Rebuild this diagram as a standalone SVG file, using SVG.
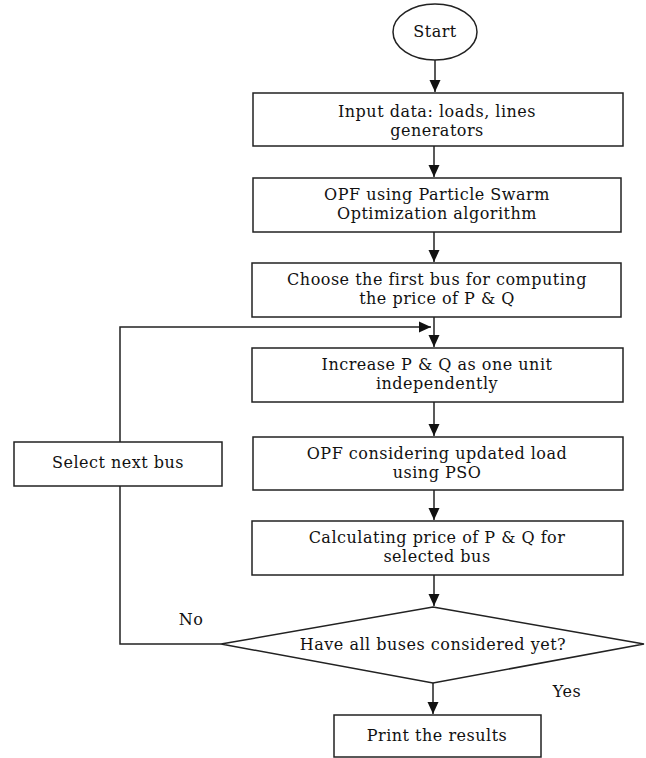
<svg xmlns="http://www.w3.org/2000/svg" width="646" height="758" viewBox="0 0 646 758">
<style>
.box{fill:#fff;stroke:#222;stroke-width:1.5}
.ln{fill:none;stroke:#222;stroke-width:1.5}
text{font-family:"DejaVu Serif","Liberation Serif",serif;font-size:16px;letter-spacing:0.5px;fill:#111;text-anchor:middle}
</style>
<defs>
<marker id="ah" markerUnits="userSpaceOnUse" markerWidth="12" markerHeight="12" viewBox="0 0 12 12" refX="12" refY="6" orient="auto">
<path d="M0,0.5 L12,6 L0,11.5 z" fill="#111"/>
</marker>
</defs>
<rect width="646" height="758" fill="#fff"/>
<g id="connectors">
<line class="ln" x1="435" y1="60" x2="435" y2="92" marker-end="url(#ah)"/>
<line class="ln" x1="434" y1="146" x2="434" y2="177" marker-end="url(#ah)"/>
<line class="ln" x1="434" y1="232" x2="434" y2="262" marker-end="url(#ah)"/>
<line class="ln" x1="434" y1="317" x2="434" y2="347" marker-end="url(#ah)"/>
<line class="ln" x1="434" y1="402" x2="434" y2="436" marker-end="url(#ah)"/>
<line class="ln" x1="434" y1="490" x2="434" y2="520" marker-end="url(#ah)"/>
<line class="ln" x1="434" y1="575" x2="434" y2="606" marker-end="url(#ah)"/>
<line class="ln" x1="433" y1="683" x2="433" y2="714" marker-end="url(#ah)"/>
<polyline class="ln" points="221,644 120,644 120,486"/>
<polyline class="ln" points="120,442 120,327 431,327" marker-end="url(#ah)"/>
<text x="191" y="625">No</text>
<text x="567" y="697">Yes</text>
</g>
<g id="start">
<ellipse class="box" cx="435" cy="32" rx="42" ry="28"/>
<text x="435" y="37">Start</text>
</g>
<g id="input">
<rect class="box" x="253" y="93" width="370" height="53"/>
<text x="437" y="117">Input data: loads, lines</text>
<text x="437" y="136">generators</text>
</g>
<g id="opf-pso">
<rect class="box" x="253" y="178" width="368" height="54"/>
<text x="437" y="200">OPF using Particle Swarm</text>
<text x="437" y="219">Optimization algorithm</text>
</g>
<g id="choose">
<rect class="box" x="252" y="263" width="369" height="54"/>
<text x="437" y="285">Choose the first bus for computing</text>
<text x="437" y="304">the price of P &amp; Q</text>
</g>
<g id="increase">
<rect class="box" x="252" y="348" width="371" height="54"/>
<text x="437" y="370">Increase P &amp; Q as one unit</text>
<text x="437" y="389">independently</text>
</g>
<g id="opf-updated">
<rect class="box" x="253" y="437" width="370" height="53"/>
<text x="437" y="459">OPF considering updated load</text>
<text x="437" y="478">using PSO</text>
</g>
<g id="calc">
<rect class="box" x="252" y="521" width="371" height="54"/>
<text x="437" y="543">Calculating price of P &amp; Q for</text>
<text x="437" y="562">selected bus</text>
</g>
<g id="decision">
<polygon class="box" points="433,607 644,644 433,683 221,644"/>
<text x="433" y="650">Have all buses considered yet?</text>
</g>
<g id="print">
<rect class="box" x="334" y="715" width="207" height="42"/>
<text x="437" y="741">Print the results</text>
</g>
<g id="select-next">
<rect class="box" x="14" y="442" width="208" height="44"/>
<text x="118" y="468">Select next bus</text>
</g>
</svg>
